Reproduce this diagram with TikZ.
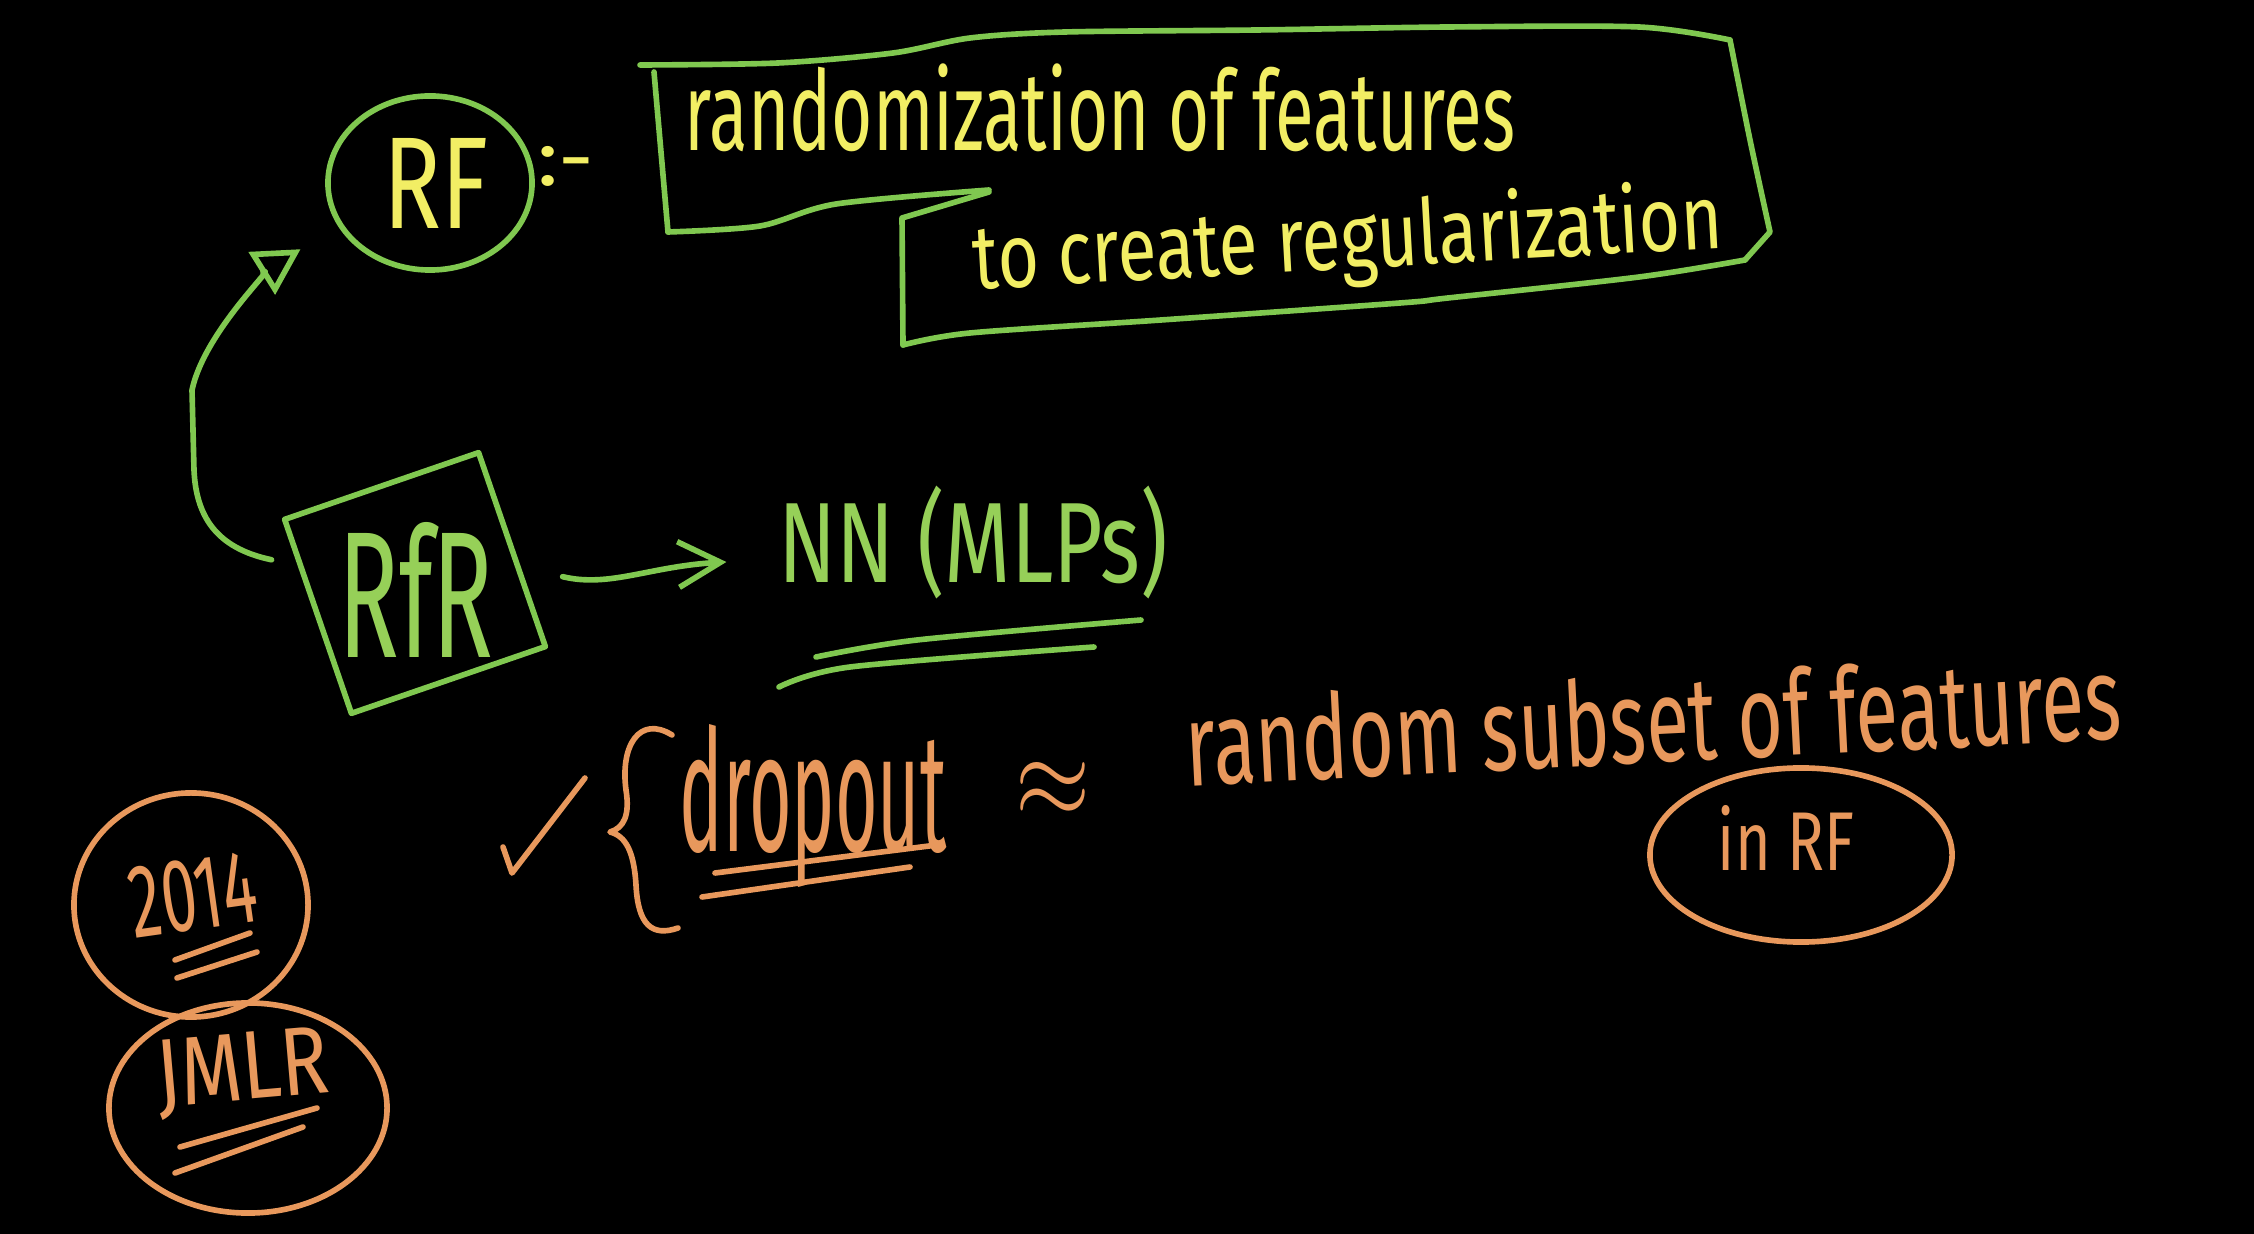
\documentclass[tikz,border=0pt]{standalone}
\usepackage{graphicx}
\usepackage{fontspec}
\setmainfont{Fira Sans}
\usetikzlibrary{shapes.geometric,arrows.meta,calc}
\definecolor{chalkgreen}{RGB}{128,200,80}
\definecolor{chalkyellow}{RGB}{242,238,100}
\definecolor{chalkorange}{RGB}{232,152,92}
\definecolor{nngreen}{RGB}{150,208,88}
\newcommand{\fitbox}[3]{\resizebox*{#1cm}{#2cm}{#3}}
\begin{document}
\begin{tikzpicture}[x=0.01cm,y=-0.01cm, line cap=round, line join=round,
  stroke/.style={line width=1.6pt},
  gline/.style={stroke, draw=chalkgreen},
  oline/.style={stroke, draw=chalkorange},
  txt/.style={inner sep=0pt, outer sep=0pt},
  ytxt/.style={txt, text=chalkyellow},
  gtxt/.style={txt, text=nngreen},
  otxt/.style={txt, text=chalkorange},
  gring/.style={ellipse, gline, inner sep=0pt},
  oring/.style={ellipse, oline, inner sep=0pt}]
\fill[black] (0,0) rectangle (2254,1234);
\useasboundingbox (0,0) rectangle (2254,1234);

% ---- RF circle and definition box
\node[gring, minimum width=2.04cm, minimum height=1.74cm] (rf) at (430,183) {};
\node[ytxt] (rflabel) at (436,183) {\fitbox{1.05}{0.90}{RF}};
\node[ytxt] (sep) at (566,166) {\fitbox{0.57}{0.40}{:-}};

\draw[gline] plot[smooth, tension=0.5] coordinates {(640,65) (778,63) (893,53) (970,38) (1065,32) (1257,30) (1448,27) (1639,27) (1730,40)};
\draw[gline] plot[smooth, tension=0.5] coordinates {(1730,40) (1750,140) (1770,232)} -- (1745,260);
\draw[gline] plot[smooth, tension=0.5] coordinates {(1745,260) (1639,277) (1448,298) (1400,303) (1161,320) (970,333) (903,345)};
\draw[gline] (903,345) -- (902,218) -- (989,192);
\draw[gline] (654,72) -- (668,232);
\draw[gline] plot[smooth, tension=0.5] coordinates {(668,232) (760,226) (836,204) (989,190)};

\node[ytxt] (line1) at (1100,108) {\fitbox{8.30}{0.88}{randomization of features}};
\node[ytxt, rotate=3.2] (line2) at (1348,243) {\fitbox{7.50}{0.90}{to create regularization}};

% ---- RfR box
\node[draw=chalkgreen, stroke, rotate=19, minimum width=2.05cm, minimum height=2.05cm, inner sep=0pt] (rfr) at (415,583) {};
\node[gtxt] (rfrlabel) at (416,590) {\fitbox{1.55}{1.35}{RfR}};

\draw[gline, -{Triangle[open, length=13pt, width=14pt]}, shorten >=0.44cm]
  ($(rfr.150)+(-24,0)$) .. controls (215,548) and (196,515) .. (194,470)
  -- (192,390) .. controls (205,330) and (280,262) .. (rf.205);

% ---- NN (MLPs)
\node[gtxt] (nn) at (973,543) {\fitbox{3.89}{1.13}{NN (MLPs)}};
\draw[gline, -{Straight Barb[length=12pt, width=13pt]}]
  ($(rfr.east)+(48,28)$) .. controls (610,588) and (650,566) .. ($(nn.west)+(-52,19)$);
\draw[gline] plot[smooth] coordinates {(816,657) (917,640) (1141,620)};
\draw[gline] plot[smooth] coordinates {(779,687) (850,667) (1094,647)};

% ---- dropout line
\draw[oline] (503,847) -- (512,873) -- (585,778);
\draw[oline] (672,735) .. controls (640,715) and (620,745) .. (626,790)
  .. controls (630,815) and (624,828) .. (610,832)
  .. controls (626,836) and (634,852) .. (636,885)
  .. controls (638,925) and (652,937) .. (678,928);
\node[otxt] (dropout) at (813,806) {\fitbox{2.67}{1.63}{dropout}};
\draw[oline] (715,873) -- (937,845);
\draw[oline] (702,897) -- (910,867);
\node[otxt] (approx) at (1053,790) {\fitbox{0.75}{0.55}{$\approx$}};
\node[otxt, rotate=2.9] (subset) at (1653,719) {\fitbox{9.35}{0.90}{random subset of features}};
\node[oring, minimum width=3.02cm, minimum height=1.74cm] (inrf) at (1801,855) {};
\node[otxt] (inrflabel) at (1786,838) {\fitbox{1.36}{0.65}{in RF}};

% ---- 2014 / JMLR
\node[oring, minimum width=2.34cm, minimum height=2.24cm] (ring2014) at (191,905) {};
\node[otxt, rotate=8] (year) at (193,895) {\fitbox{1.27}{0.72}{2014}};
\draw[oline] (175,960) -- (250,933);
\draw[oline] (177,978) -- (257,952);
\node[oring, minimum width=2.78cm, minimum height=2.10cm] (ringjmlr) at (248,1108) {};
\node[otxt, rotate=5] (jmlr) at (243,1073) {\fitbox{1.73}{0.80}{JMLR}};
\draw[oline] (180,1147) -- (317,1108);
\draw[oline] (175,1173) -- (303,1127);
\end{tikzpicture}
\end{document}
